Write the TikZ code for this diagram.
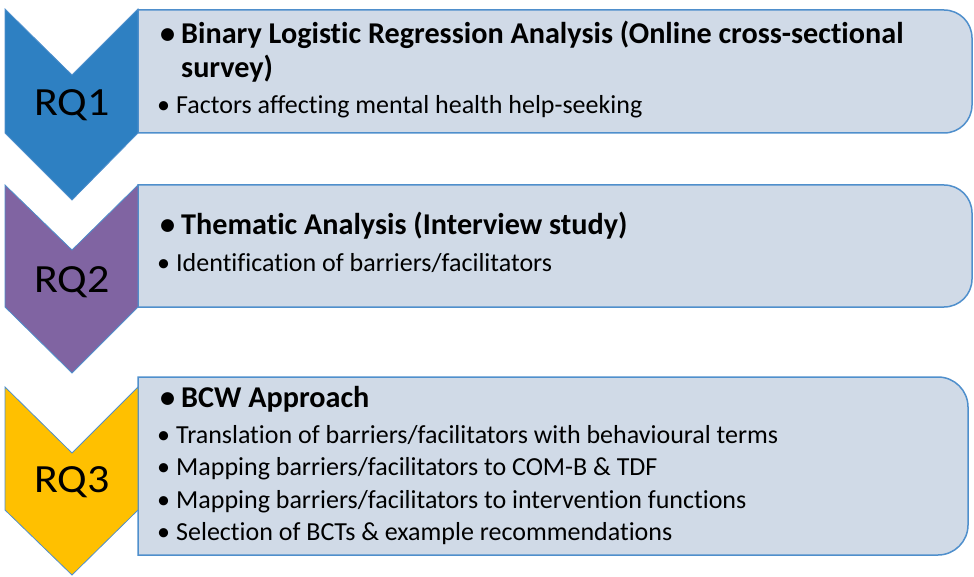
\documentclass[tikz,border=0pt]{standalone}
\usepackage{fontspec}
\setmainfont{Carlito}[Ligatures={NoCommon,NoRare,NoDiscretionary}]
\usepackage{tikz}
\usetikzlibrary{positioning}

\definecolor{rqblue}{HTML}{2E80C2}
\definecolor{rqpurple}{HTML}{8064A2}
\definecolor{rqgold}{HTML}{FFC000}
\definecolor{boxfill}{HTML}{D0DAE7}
\definecolor{boxline}{HTML}{4F8FCC}

\newcommand{\hdbullet}{\makebox[21pt][l]{\textbullet}}
\newcommand{\itbullet}{\makebox[19pt][l]{\textbullet}}

\begin{document}
\begin{tikzpicture}[x=1pt, y=-1pt,
  chev/.style={draw=boxline, line width=0.8pt, line join=miter},
  rbox/.style={draw=boxline, fill=boxfill, line width=1.5pt},
  rqlabel/.style={anchor=base, inner sep=0pt, font=\fontsize{40}{48}\selectfont},
  headtxt/.style={anchor=base west, inner sep=0pt, font=\fontsize{30.2}{34}\selectfont\bfseries},
  itemtxt/.style={anchor=base west, inner sep=0pt, font=\fontsize{26}{32.5}\selectfont}]
  \useasboundingbox (0,0) rectangle (974,577);

  % text boxes (drawn first, chevrons overlap their left edge)
  \path[rbox] (138,10) -- (944,10) .. controls (959.5,10) and (972,22.5) .. (972,38)
     -- (972,105) .. controls (972,120.5) and (959.5,133) .. (944,133) -- (138,133) -- cycle;
  \path[rbox] (138,185) -- (944,185) .. controls (959.5,185) and (972,197.5) .. (972,213)
     -- (972,279) .. controls (972,294.5) and (959.5,307) .. (944,307) -- (138,307) -- cycle;
  \path[rbox] (138,377) -- (938,377) .. controls (954.5,377) and (968,390.5) .. (968,407)
     -- (968,525) .. controls (968,541.5) and (954.5,555) .. (938,555) -- (138,555) -- cycle;

  % chevrons
  \path[chev, fill=rqblue]   (5,9) -- (72,75) -- (138,9) -- (138,133) -- (72,200) -- (5,133) -- cycle;
  \path[chev, fill=rqpurple] (5,185) -- (72,250) -- (138,185) -- (138,307) -- (72,373) -- (5,307) -- cycle;
  \path[chev, fill=rqgold]   (5,387) -- (72,453) -- (138,387) -- (138,510) -- (72,575) -- (5,510) -- cycle;

  \node[rqlabel] (rq1) at (72,116) {\scalebox{1.1}[1]{RQ1}};
  \node[rqlabel] (rq2) at (72,292) {\scalebox{1.1}[1]{RQ2}};
  \node[rqlabel] (rq3) at (72,492) {\scalebox{1.1}[1]{RQ3}};

  % RQ1
  \node[headtxt] (h1) at (160,44)
    {\hdbullet\parbox[t]{780pt}{Binary Logistic Regression Analysis (Online cross-sectional\\survey)}};
  \node[itemtxt] (i11) at (157,114) {\itbullet Factors affecting mental health help-seeking};

  % RQ2
  \node[headtxt] (h2) at (160,235) {\hdbullet Thematic Analysis (Interview study)};
  \node[itemtxt] (i21) at (157,272) {\itbullet Identification of barriers/facilitators};

  % RQ3
  \node[headtxt] (h3) at (160,407) {\hdbullet BCW Approach};
  \node[itemtxt] (i31) at (157,443) {\itbullet Translation of barriers/facilitators with behavioural terms};
  \node[itemtxt] (i32) [below=32.5pt of i31.base west, anchor=base west] {\itbullet Mapping barriers/facilitators to COM-B \& TDF};
  \node[itemtxt] (i33) [below=32.5pt of i32.base west, anchor=base west] {\itbullet Mapping barriers/facilitators to intervention functions};
  \node[itemtxt] (i34) [below=32.5pt of i33.base west, anchor=base west] {\itbullet Selection of BCTs \& example recommendations};

\end{tikzpicture}
\end{document}
